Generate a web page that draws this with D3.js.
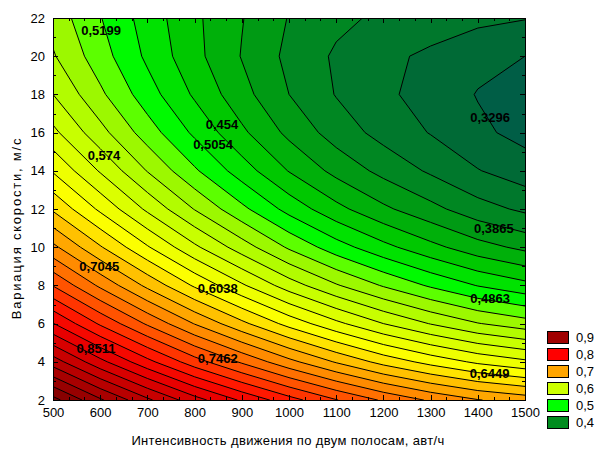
<!DOCTYPE html>
<html>
<head>
<meta charset="utf-8">
<script src="https://cdn.jsdelivr.net/npm/d3@7"></script>
<style>
  body { margin: 0; background: #fff; }
  text { font-family: "Liberation Sans", Arial, sans-serif; }
</style>
</head>
<body>
<div id="chart"></div>
<script>
// grid of the surface: columns = intensity, rows = speed variation
const xValues = [500, 600, 700, 800, 900, 1000, 1100, 1200, 1300, 1400, 1500];
const yValues = [2, 4, 6, 8, 10, 12, 14, 16, 18, 20, 22];
const zRows = [
    [0.957, 0.913, 0.874, 0.838, 0.807, 0.778, 0.751, 0.727, 0.707, 0.691, 0.681],
    [0.880, 0.836, 0.796, 0.759, 0.727, 0.696, 0.668, 0.643, 0.623, 0.606, 0.594],
    [0.811, 0.767, 0.727, 0.689, 0.655, 0.623, 0.595, 0.570, 0.549, 0.531, 0.519],
    [0.749, 0.706, 0.665, 0.627, 0.593, 0.560, 0.532, 0.508, 0.487, 0.469, 0.456],
    [0.695, 0.652, 0.612, 0.574, 0.540, 0.507, 0.479, 0.456, 0.436, 0.418, 0.405],
    [0.647, 0.606, 0.566, 0.529, 0.495, 0.463, 0.436, 0.414, 0.396, 0.378, 0.366],
    [0.608, 0.568, 0.529, 0.493, 0.460, 0.429, 0.404, 0.384, 0.367, 0.351, 0.339],
    [0.575, 0.537, 0.500, 0.466, 0.434, 0.405, 0.381, 0.363, 0.349, 0.334, 0.324],
    [0.550, 0.514, 0.479, 0.447, 0.417, 0.390, 0.369, 0.354, 0.342, 0.329, 0.321],
    [0.532, 0.499, 0.466, 0.436, 0.409, 0.385, 0.367, 0.355, 0.346, 0.336, 0.330],
    [0.522, 0.491, 0.461, 0.434, 0.411, 0.389, 0.375, 0.366, 0.361, 0.355, 0.351]
];

const levels = d3.range(32).map(i => +(0.33 + i * 0.02).toFixed(2));

// band colours
const bandStops = [0.32, 0.34, 0.36, 0.38, 0.40, 0.42, 0.44, 0.46, 0.48, 0.50, 0.52, 0.56, 0.60, 0.625,
    0.655, 0.685, 0.72, 0.75, 0.78, 0.81, 0.85, 0.91, 0.96];
const bandColors = ["#005e46", "#006a36", "#00782c", "#008722", "#009a14", "#00b00a", "#00c800", "#00e200", "#00fa00", "#5cff00", "#9cf800",
    "#c8ff00", "#eeff00", "#ffff00", "#ffc800", "#ffa000", "#ff7000", "#ff4400", "#ff1800", "#f00000", "#d00000", "#a00000", "#780000"];

const legendValues = ["0,9", "0,8", "0,7", "0,6", "0,5", "0,4"];
const legendColors = ["#a00000", "#ff0000", "#ffa500", "#ccff00", "#00ff00", "#008c1e"];

const labelText = ["0,5199", "0,574", "0,454", "0,5054", "0,3296", "0,3865", "0,4863", "0,6449", "0,7045", "0,6038", "0,8511", "0,7462"];
const labelX = [602, 608, 858, 839, 1426, 1434, 1426, 1425, 598, 849, 591, 849];
const labelY = [21.35, 14.8, 16.45, 15.4, 16.79, 11.0, 7.34, 3.41, 8.99, 7.86, 4.7, 4.17];

const xTitle = "Интенсивность движения по двум полосам, авт/ч";
const yTitle = "Вариация скорости, м/с";

const width = 608, height = 456;
const margin = { top: 18, left: 53 };
const plotW = 472, plotH = 382;

const svg = d3.select("#chart").append("svg")
    .attr("width", width)
    .attr("height", height);

svg.append("rect").attr("width", width).attr("height", height).attr("fill", "#fff");

const g = svg.append("g").attr("transform", `translate(${margin.left},${margin.top})`);

const x = d3.scaleLinear().domain([500, 1500]).range([0, plotW]);
const y = d3.scaleLinear().domain([2, 22]).range([plotH, 0]);
const color = d3.scaleLinear().domain(bandStops).range(bandColors);

svg.append("defs").append("clipPath").attr("id", "plot-clip")
    .append("rect").attr("width", plotW).attr("height", plotH);

// contours on the grid, grid cell centres mapped back to data units
const nx = xValues.length, ny = yValues.length;
const dx = xValues[1] - xValues[0], dy = yValues[1] - yValues[0];
const contours = d3.contours().size([nx, ny]).thresholds(levels)(zRows.flat());

const toPx = d3.geoTransform({
    point: function(gx, gy) {
        this.stream.point(x(xValues[0] + (gx - 0.5) * dx), y(yValues[0] + (gy - 0.5) * dy));
    }
});
const path = d3.geoPath(toPx);

const plot = g.append("g").attr("clip-path", "url(#plot-clip)");

plot.append("rect")
    .attr("width", plotW).attr("height", plotH)
    .attr("fill", color(levels[0] - 0.01));

plot.selectAll("path.band")
    .data(contours)
    .join("path")
    .attr("class", "band")
    .attr("d", path)
    .attr("fill", d => color(d.value + 0.01));

plot.selectAll("path.line")
    .data(contours)
    .join("path")
    .attr("class", "line")
    .attr("d", path)
    .attr("fill", "none")
    .attr("stroke", "#000")
    .attr("stroke-width", 1);

// contour labels
g.selectAll("text.clabel")
    .data(labelText)
    .join("text")
    .attr("class", "clabel")
    .attr("x", (d, i) => x(labelX[i]))
    .attr("y", (d, i) => y(labelY[i]))
    .attr("dy", "0.35em")
    .attr("text-anchor", "middle")
    .style("font-size", "13px")
    .style("font-weight", "bold")
    .attr("fill", "#000")
    .text(d => d);

// axes, ticks inside on all four sides
const minorX = d3.range(0, 31).map(i => 500 + i * 100 / 3);
const minorY = d3.range(2, 23, 1);

function styleAxis(sel) {
    sel.select(".domain").remove();
    sel.selectAll("line").attr("stroke", "#000").attr("shape-rendering", "crispEdges");
    sel.selectAll("text").attr("font-size", 13).attr("fill", "#000")
        .attr("font-family", "'Liberation Sans', Arial, sans-serif");
}

g.append("g").attr("transform", `translate(0,${plotH})`)
    .call(d3.axisBottom(x).tickValues(xValues).tickSize(-5).tickPadding(8).tickFormat(d3.format("d")))
    .call(styleAxis);
g.append("g").attr("transform", `translate(0,${plotH})`)
    .call(d3.axisBottom(x).tickValues(minorX).tickSize(-3).tickFormat(""))
    .call(styleAxis);
g.append("g")
    .call(d3.axisTop(x).tickValues(xValues).tickSize(-5).tickFormat(""))
    .call(styleAxis);
g.append("g")
    .call(d3.axisTop(x).tickValues(minorX).tickSize(-3).tickFormat(""))
    .call(styleAxis);

g.append("g")
    .call(d3.axisLeft(y).tickValues(yValues).tickSize(-5).tickPadding(8).tickFormat(d3.format("d")))
    .call(styleAxis);
g.append("g")
    .call(d3.axisLeft(y).tickValues(minorY).tickSize(-3).tickFormat(""))
    .call(styleAxis);
g.append("g").attr("transform", `translate(${plotW},0)`)
    .call(d3.axisRight(y).tickValues(yValues).tickSize(-5).tickFormat(""))
    .call(styleAxis);
g.append("g").attr("transform", `translate(${plotW},0)`)
    .call(d3.axisRight(y).tickValues(minorY).tickSize(-3).tickFormat(""))
    .call(styleAxis);

g.append("rect")
    .attr("width", plotW).attr("height", plotH)
    .attr("fill", "none")
    .attr("stroke", "#000")
    .attr("stroke-width", 1)
    .attr("shape-rendering", "crispEdges");

// axis titles
svg.append("text")
    .attr("x", 288)
    .attr("y", 445)
    .attr("text-anchor", "middle")
    .style("font-size", "13px")
    .style("letter-spacing", "0.35px")
    .attr("fill", "#000")
    .text(xTitle);

svg.append("text")
    .attr("transform", "translate(21,228) rotate(-90)")
    .attr("text-anchor", "middle")
    .style("font-size", "13px")
    .style("letter-spacing", "1.8px")
    .attr("fill", "#000")
    .text(yTitle);

// legend
const legend = svg.append("g").attr("transform", "translate(547,331)");
const items = legend.selectAll("g")
    .data(legendValues)
    .join("g")
    .attr("transform", (d, i) => `translate(0,${i * 17})`);

items.append("rect")
    .attr("width", 21).attr("height", 12)
    .attr("fill", (d, i) => legendColors[i])
    .attr("stroke", "#000")
    .attr("stroke-width", 1)
    .attr("shape-rendering", "crispEdges");

items.append("text")
    .attr("x", 29)
    .attr("y", 11)
    .style("font-size", "13px")
    .attr("fill", "#000")
    .text(d => d);
</script>
</body>
</html>
